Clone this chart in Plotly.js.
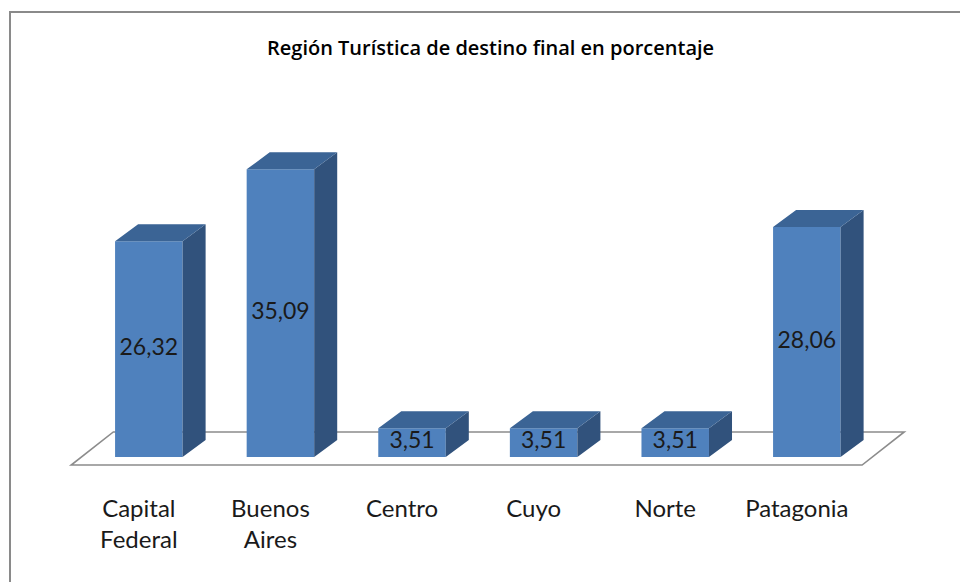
<!DOCTYPE html>
<html>
<head>
<meta charset="utf-8">
<script src="https://cdn.plot.ly/plotly-3.0.1.min.js"></script>
<style>html,body{margin:0;padding:0;background:#fff;}#chart{width:960px;height:582px;}</style>
</head>
<body>
<div id="chart"></div>
<script>
// ---- data ----
const categories = ["Capital<br>Federal", "Buenos<br>Aires", "Centro", "Cuyo", "Norte", "Patagonia"];
const values = [26.32, 35.09, 3.51, 3.51, 3.51, 28.06];
const valueLabels = ["26,32", "35,09", "3,51", "3,51", "3,51", "28,06"];
const titleText = "Región Turística de destino final en porcentaje";

// ---- 3D look parameters ----
const W = 0.513;   // bar width (category units)
const DX = 0.175;  // depth offset x
const DY = 2.07;   // depth offset y
const idx = categories.map((_, i) => i);

const sideX = [], sideY = [], topX = [], topY = [];
idx.forEach(i => {
  const v = values[i], r = i + W / 2, l = i - W / 2;
  sideX.push(r, r + DX, r + DX, r, r, null);
  sideY.push(0, DY, v + DY, v, 0, null);
  topX.push(l, r, r + DX, l + DX, l, null);
  topY.push(v, v, v + DY, v + DY, v, null);
});

// floor parallelogram (drawn as a shape beneath the bars)
const n = categories.length;
const fl = -0.59, fr = n - 1 + 0.42, fFront = -0.98, fBack = 3.05, fOff = 0.32;
const floorPath = `M ${fl},${fFront} L ${fr},${fFront} L ${fr + fOff},${fBack} L ${fl + fOff},${fBack} Z`;

const frontTrace = {
  x: idx, y: values, type: 'bar', width: W,
  marker: {color: '#4f81bd', line: {width: 0}}, hoverinfo: 'skip', showlegend: false
};
const sideTrace = {
  x: sideX, y: sideY, type: 'scatter', mode: 'lines', fill: 'toself',
  fillcolor: '#31527c', line: {width: 0, color: '#31527c'}, hoverinfo: 'skip', showlegend: false
};
const topTrace = {
  x: topX, y: topY, type: 'scatter', mode: 'lines', fill: 'toself',
  fillcolor: '#3b6495', line: {width: 0, color: '#3b6495'}, hoverinfo: 'skip', showlegend: false
};
const labelTrace = {
  x: idx, y: values.map(v => v / 2), text: valueLabels, type: 'scatter', mode: 'text',
  textposition: 'middle center',
  textfont: {family: 'Lato, "Open Sans", sans-serif', size: 23, color: '#1a1a1a'},
  hoverinfo: 'skip', showlegend: false
};

// plot area: x pixels 60..920, y pixels 100..480
const L = 60, R = 40, T = 100, B = 102;
const pw = 960 - L - R, ph = 582 - T - B;
const px = p => (p - L) / pw, py = p => (582 - B - p) / ph;

const layout = {
  width: 960, height: 582,
  margin: {l: L, r: R, t: T, b: B},
  paper_bgcolor: '#ffffff', plot_bgcolor: 'rgba(0,0,0,0)',
  title: {
    text: titleText, xref: 'container', yref: 'container', x: 0.511, y: 1 - 48 / 582,
    xanchor: 'center', yanchor: 'middle',
    font: {family: '"Open Sans", Lato, sans-serif', size: 20, color: '#000000', weight: 600}
  },
  xaxis: {
    range: [-0.675, 5.86], tickvals: idx, ticktext: categories,
    showgrid: false, zeroline: false, showline: false, ticks: '',
    ticklabelstandoff: 12, ticklabelshift: -10,
    tickfont: {family: 'Lato, "Open Sans", sans-serif', size: 24, color: '#1a1a1a'},
    fixedrange: true
  },
  yaxis: {range: [-2.805, 43.54], visible: false, fixedrange: true},
  shapes: [{
    type: 'rect', xref: 'paper', yref: 'paper',
    x0: px(10), x1: px(965), y0: py(590), y1: py(12),
    line: {color: '#8a8a8a', width: 2}, fillcolor: 'rgba(0,0,0,0)', layer: 'below'
  }, {
    type: 'path', xref: 'x', yref: 'y', path: floorPath,
    fillcolor: '#ffffff', line: {color: '#8c8c8c', width: 1.6}, layer: 'below'
  }],
  showlegend: false
};

Plotly.newPlot('chart', [frontTrace, sideTrace, topTrace, labelTrace], layout, {displayModeBar: false, staticPlot: true});
</script>
</body>
</html>
